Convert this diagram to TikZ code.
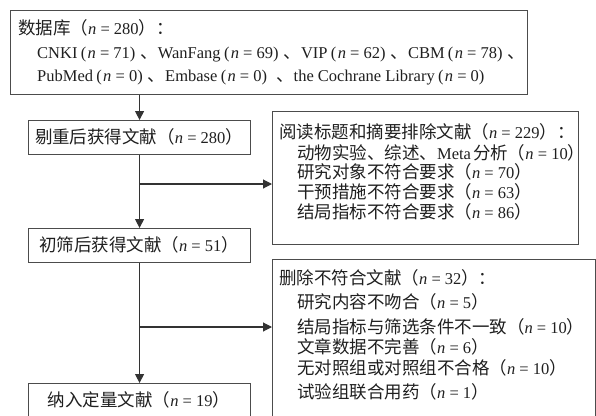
\documentclass[tikz,border=0pt]{standalone}
\usepackage{fontspec}
\setmainfont{Liberation Serif}
\newfontfamily\cjk[Scale=1.06]{Noto Sans CJK SC}
\usetikzlibrary{arrows.meta}
\newcommand\zh[1]{{\cjk #1}}
\newcommand\pn[1]{\zh{（}\textit{n} = #1\zh{）}}
% narrow (Latin) parentheses for the two crowded lines
\newcommand\pns[1]{\kern0.2em(\kern0.08em\textit{n} = #1)\kern0.3em}
\newcommand\dun{\zh{、}}
\begin{document}
\begin{tikzpicture}[x=1pt,y=-1pt,
  box/.style={draw=black!70, line width=1.1pt, inner sep=0pt, anchor=north west},
  ln/.style={anchor=base west, inner sep=0pt, font=\fontsize{16.5}{16.5}\selectfont, text=black!88},
  cn/.style={anchor=base, inner sep=0pt, font=\fontsize{16.5}{16.5}\selectfont, text=black!88},
  arr/.style={draw=black!80, line width=1.1pt, -{Triangle[length=9pt,width=9pt]}}]
\useasboundingbox (0,0) rectangle (596,415);
\clip (0,0) rectangle (596,415);
% boxes
\node[box, minimum width=517pt, minimum height=84pt] (T) at (10,10) {};
\node[box, minimum width=222pt, minimum height=34pt] (B1) at (28,120) {};
\node[box, minimum width=306pt, minimum height=133pt] (R1) at (272,111) {};
\node[box, minimum width=222pt, minimum height=34pt] (B2) at (28,228) {};
\node[box, minimum width=323pt, minimum height=165pt] (R2) at (272,259) {};
\node[box, minimum width=222pt, minimum height=34pt] (B3) at (28,383) {};
% texts
\node[ln] (t1) at (18,34) {\zh{数据库（}\textit{n} = 280\zh{）：}};
\node[ln] (t2) at (37,58) {CNKI\pns{71}\dun WanFang\pns{69}\dun VIP\pns{62}\dun CBM\pns{78}\dun};
\node[ln] (t3) at (37,81.5) {PubMed\pns{0}\dun Embase\pns{0}\ \dun the Cochrane Library\pns{0}};
\node[cn] (b1) at (139,143) {\zh{剔重后获得文献}\pn{280}};
\node[ln] (r11) at (279,138) {\zh{阅读标题和摘要排除文献}\pn{229}\zh{：}};
\node[ln] (r12) at (297,159) {\zh{动物实验、综述、}Meta\kern0.12em\zh{分析}\pn{10}};
\node[ln] (r13) at (297,178) {\zh{研究对象不符合要求}\pn{70}};
\node[ln] (r14) at (297,198) {\zh{干预措施不符合要求}\pn{63}};
\node[ln] (r15) at (297,218) {\zh{结局指标不符合要求}\pn{86}};
\node[cn] (b2) at (139,251) {\zh{初筛后获得文献}\pn{51}};
\node[ln] (r21) at (279,284) {\zh{删除不符合文献}\pn{32}\zh{：}};
\node[ln] (r22) at (297,308) {\zh{研究内容不吻合}\pn{5}};
\node[ln] (r23) at (297,333) {\zh{结局指标与筛选条件不一致}\pn{10}};
\node[ln] (r24) at (297,353) {\zh{文章数据不完善}\pn{6}};
\node[ln] (r25) at (297,374) {\zh{无对照组或对照组不合格}\pn{10}};
\node[ln] (r26) at (297,398) {\zh{试验组联合用药}\pn{1}};
\node[cn] (b3) at (139,406) {\zh{纳入定量文献}\pn{19}};
% connectors
\draw[arr] (B1.north |- T.south) -- (B1.north);
\draw[arr] (B1.south) -- (B2.north);
\draw[arr] (B2.south) -- (B3.north);
\coordinate (j1) at (139,184);
\coordinate (j2) at (139,327);
\draw[arr] (j1) -- (j1 -| R1.west);
\draw[arr] (j2) -- (j2 -| R2.west);
\end{tikzpicture}
\end{document}
